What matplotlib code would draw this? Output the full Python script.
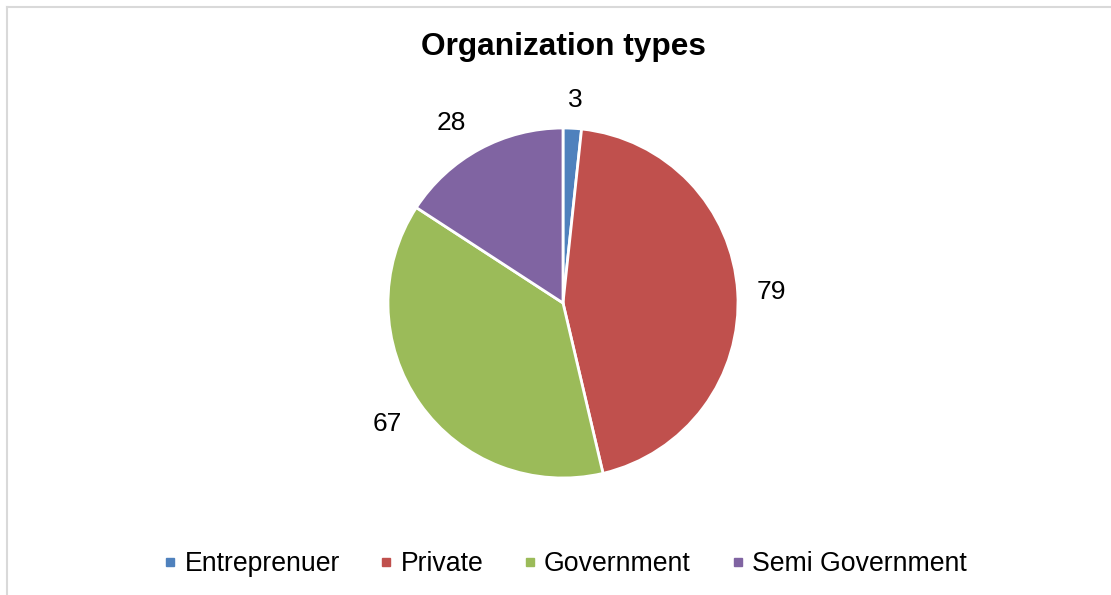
import matplotlib
matplotlib.use("Agg")
import matplotlib.pyplot as plt
import numpy as np
from matplotlib.lines import Line2D

categories = ["Entreprenuer", "Private", "Government", "Semi Government"]
values = [3, 79, 67, 28]
colors = ["#4F81BD", "#C0504D", "#9BBB59", "#8064A2"]
title = "Organization types"

plt.rcParams['font.family'] = ['Liberation Sans', 'DejaVu Sans']

W, H = 1111, 595
fig = plt.figure(figsize=(W / 100, H / 100), dpi=100)

# frame
fig.add_artist(Line2D([7 / W, 7 / W], [0, 1 - 7 / H], color="#D9D9D9", lw=1.5))
fig.add_artist(Line2D([7 / W, 1], [1 - 7 / H, 1 - 7 / H], color="#D9D9D9", lw=1.5))

cx, cy, r = 563, 303, 175
ax = fig.add_axes([(cx - r) / W, (H - cy - r) / H, 2 * r / W, 2 * r / H])
wedges, _ = ax.pie(values, colors=colors, startangle=90, counterclock=False,
                   radius=1, wedgeprops=dict(edgecolor="white", linewidth=2))
ax.set_xlim(-1, 1)
ax.set_ylim(-1, 1)
ax.set_aspect("equal")
ax.axis("off")

# (distance, angle offset in degrees) for each data label
label_pos = [(1.16, -0.4), (1.195, -0.6), (1.22, -0.6), (1.21, 3.5)]
for w, v, (d, off) in zip(wedges, values, label_pos):
    ang = np.deg2rad((w.theta1 + w.theta2) / 2 + off)
    ax.text(d * np.cos(ang), d * np.sin(ang), str(v), ha="center", va="center",
            fontsize=19, color="black")

fig.text(cx / W, 1 - 47 / H, title, ha="center", va="center",
         fontsize=22.8, fontweight="bold")

handles = [Line2D([], [], marker="s", linestyle="none", markersize=6,
                  markerfacecolor=c, markeredgecolor=c) for c in colors]
fig.legend(handles, categories, loc="center", bbox_to_anchor=(565 / W, 1 - 564 / H),
           ncol=4, frameon=False, fontsize=19.2, handlelength=0.5,
           handletextpad=0.28, columnspacing=1.5, borderpad=0, borderaxespad=0)

fig.savefig("out.png", dpi=100)
